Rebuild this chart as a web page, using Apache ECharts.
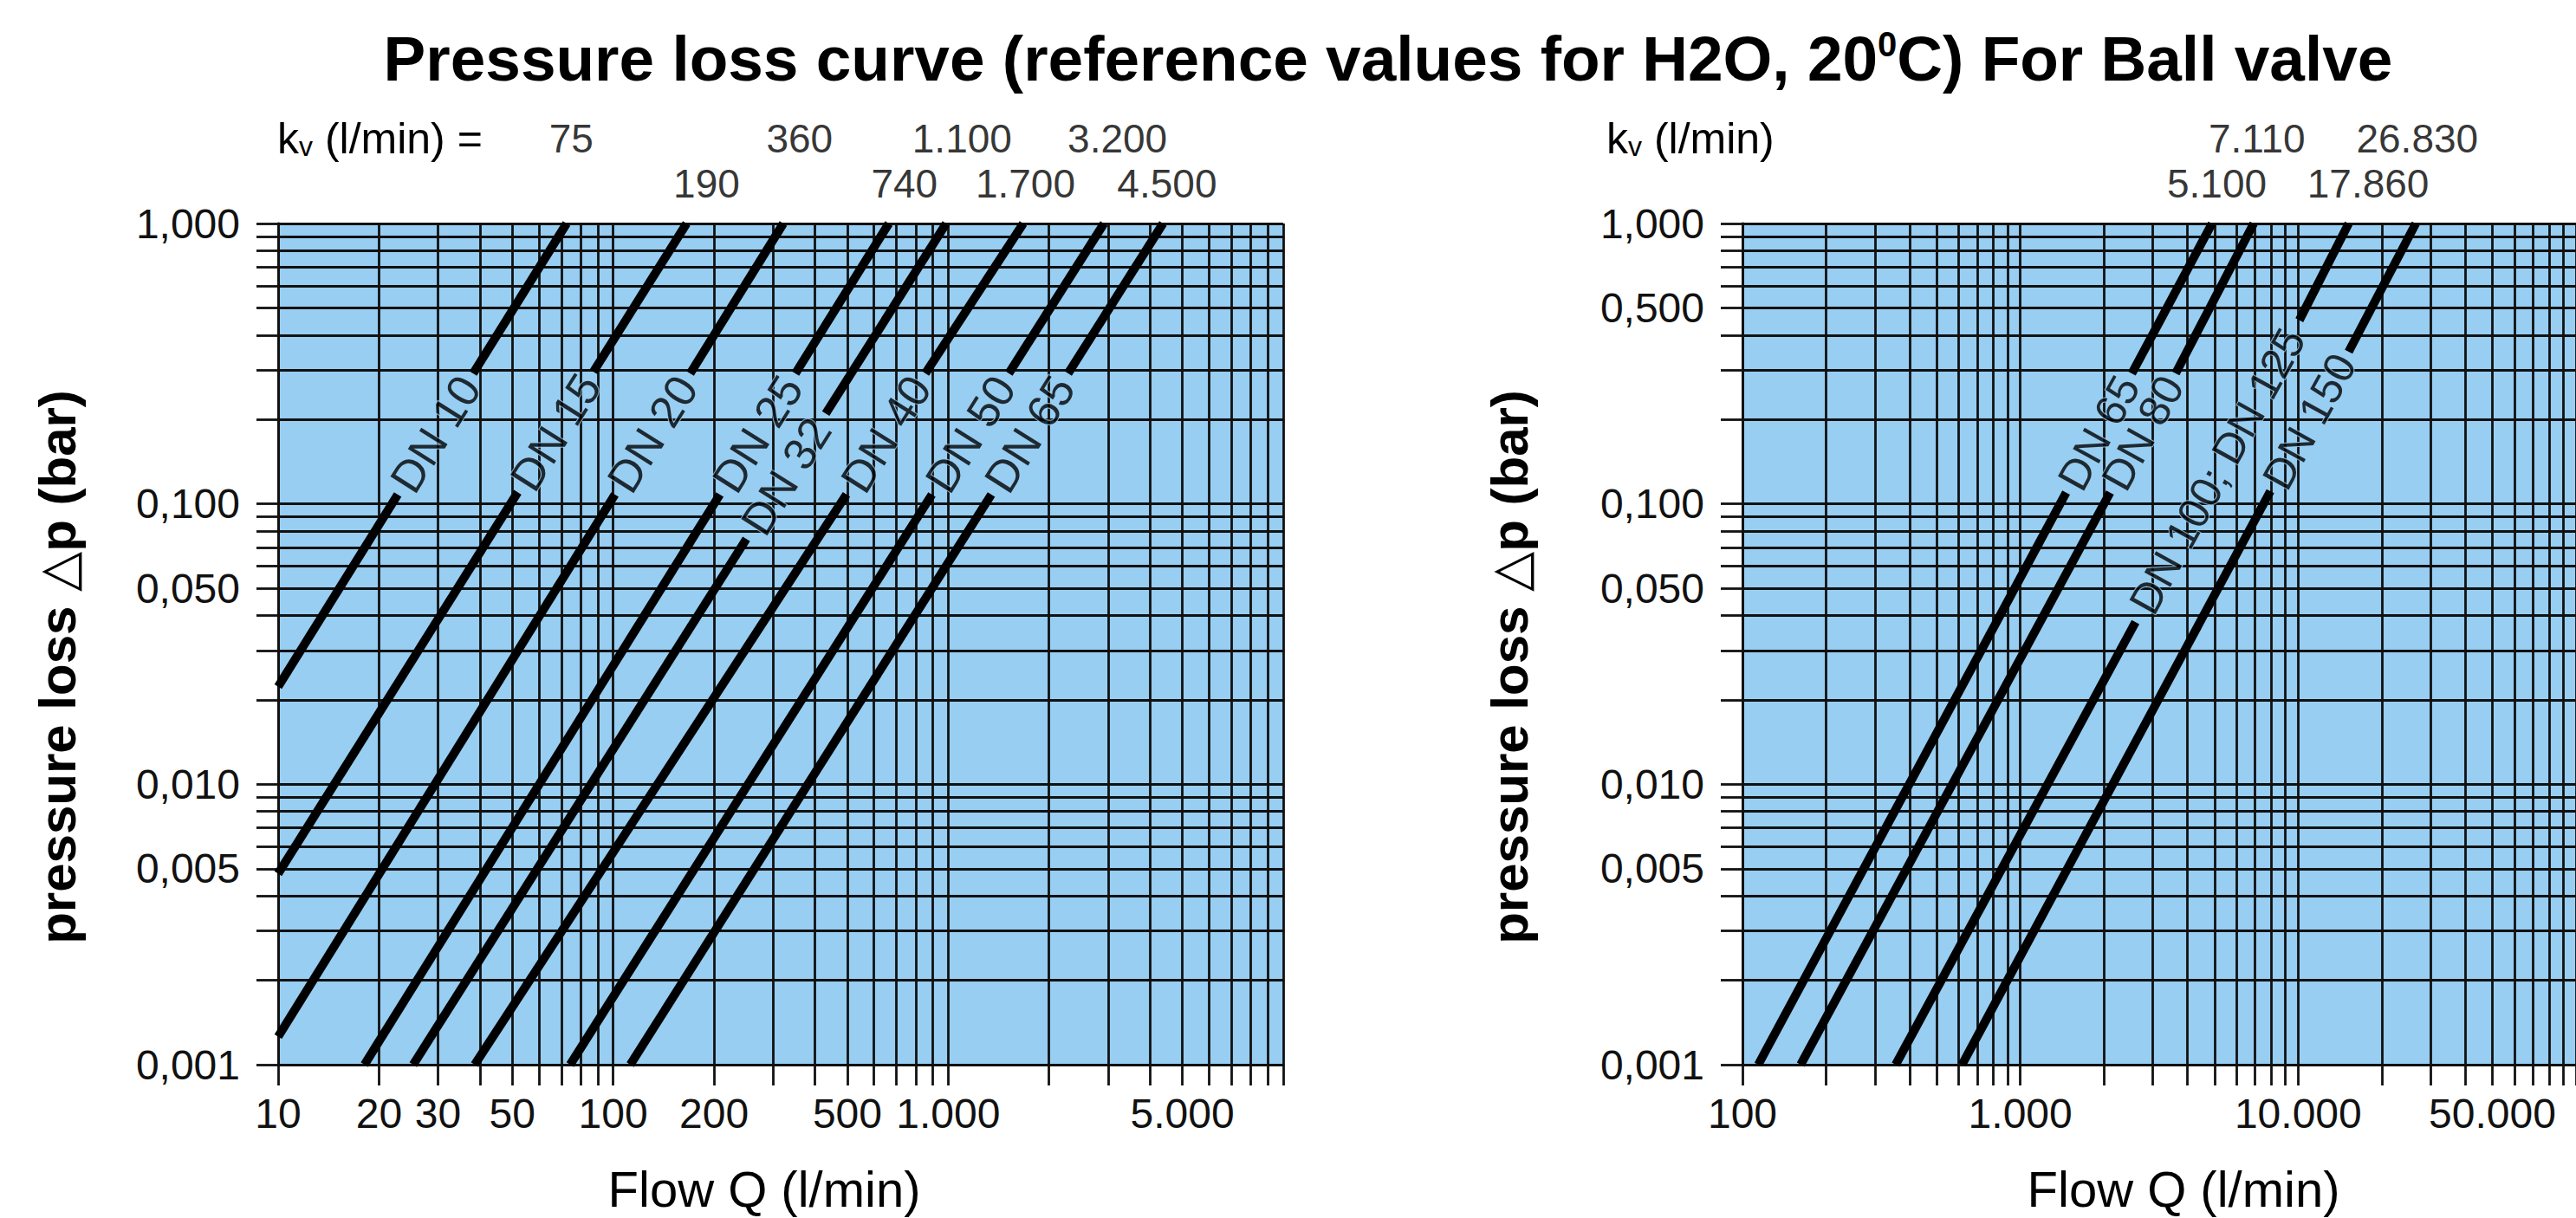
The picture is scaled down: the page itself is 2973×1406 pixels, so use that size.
<!DOCTYPE html>
<html>
<head>
<meta charset="utf-8">
<script src="https://cdn.jsdelivr.net/npm/echarts@6/dist/echarts.min.js"></script>
<style>
html,body{margin:0;padding:0;background:#ffffff;}
#chart{width:2973px;height:1406px;}
</style>
</head>
<body>
<div id="chart"></div>
<script>
// ---------- data ----------
// left diagram (DN 10 ... DN 65)
const leftSizes    = ['DN 10','DN 15','DN 20','DN 25','DN 32','DN 40','DN 50','DN 65'];
const leftKv       = [75, 190, 360, 740, 1100, 1700, 3200, 4500];
const leftKvRow    = [0, 1, 0, 1, 0, 1, 0, 1];
// each curve: [Q (l/min), dp (bar)] at start, label gap start, label gap end, end
const leftCurveStart = [[10,0.0223],[10,0.0048],[10,0.00126],[18.1,0.001],[25.3,0.001],[38.6,0.001],[74.4,0.001],[112.5,0.001]];
const leftGapLow     = [[22.75,0.108],[51.9,0.110],[101.2,0.108],[208.2,0.108],[249.8,0.075],[497,0.108],[894,0.108],[1345,0.108]];
const leftGapHigh    = [[38.2,0.292],[87.3,0.296],[169.8,0.292],[349.9,0.292],[431,0.21],[855,0.292],[1517,0.292],[2280,0.292]];
const leftCurveEnd   = [[72.6,1],[165.6,1],[322,1],[665,1],[986,1],[1675,1],[2917,1],[4376,1]];
const leftLabelPos   = [[29.5,0.1776],[67.3,0.1804],[131.1,0.1776],[269.9,0.1776],[328.1,0.1255],[651.9,0.1776],[1164.6,0.1776],[1751,0.1776]];

// right diagram (DN 65 ... DN 150)
const rightSizes   = ['DN 65','DN 80','DN 100; DN 125','DN 150'];
const rightKv      = [5100, 7110, 17860, 26830];
const rightKvRow   = [1, 0, 1, 0];
const rightCurveStart = [[114,0.001],[162,0.001],[356,0.001],[617,0.001]];
const rightGapLow     = [[1462,0.1097],[2104,0.1097],[2598,0.0379],[7943,0.111]];
const rightGapHigh    = [[2520,0.292],[3623,0.292],[10100,0.452],[15195,0.349]];
const rightCurveEnd   = [[4898,1],[6918,1],[15200,1],[26500,1]];
const rightLabelPos   = [[1919,0.179],[2761,0.179],[5122,0.1309],[10986,0.1968]];

// grid lines / ticks
const leftXGrid  = [10,20,30,40,50,60,70,80,90,100,200,300,400,500,600,700,800,900,1000,2000,3000,4000,5000,6000,7000,8000,9000,10000];
const rightXGrid = [100,200,300,400,500,600,700,800,900,1000,2000,3000,4000,5000,6000,7000,8000,9000,10000,20000,30000,40000,50000,60000,70000,80000,90000,100000];
const yGrid      = [0.001,0.002,0.003,0.004,0.005,0.006,0.007,0.008,0.009,0.01,0.02,0.03,0.04,0.05,0.06,0.07,0.08,0.09,0.1,0.2,0.3,0.4,0.5,0.6,0.7,0.8,0.9,1];
// tick labels
const leftXLabels  = [10,20,30,50,100,200,500,1000,5000];
const rightXLabels = [100,1000,10000,50000];
const leftYLabels  = [0.001,0.005,0.01,0.05,0.1,1];
const rightYLabels = [0.001,0.005,0.01,0.05,0.1,0.5,1];

// ---------- styling ----------
const BLUE = '#98CEF2';
const INK = '#111111';
const FONT = '"Liberation Sans", Arial, Helvetica, sans-serif';
const GW = 2.8;

function fmtX(v){ return String(Math.round(v)).replace(/\B(?=(\d{3})+(?!\d))/g, '.'); }
function fmtY(v){ return Number(v).toFixed(3).replace('.', ','); }

function xAxisDef(grid, min, max, gridVals, labelVals){
  return {
    type:'log', logBase:10, gridIndex:grid, min:min, max:max,
    axisLine:{show:true, onZero:false, lineStyle:{color:INK, width:GW}},
    axisTick:{show:true, inside:false, length:24, customValues:gridVals, lineStyle:{color:INK, width:GW}},
    axisLabel:{show:true, customValues:labelVals, formatter:fmtX, margin:32, fontSize:48, color:INK, fontFamily:FONT},
    splitLine:{show:true, lineStyle:{color:INK, width:GW}},
    minorTick:{show:false}, minorSplitLine:{show:false}
  };
}
function yAxisDef(grid, labelVals){
  return {
    type:'log', logBase:10, gridIndex:grid, min:0.001, max:1,
    axisLine:{show:true, onZero:false, lineStyle:{color:INK, width:GW}},
    axisTick:{show:true, inside:false, length:25, customValues:yGrid, lineStyle:{color:INK, width:GW}},
    axisLabel:{show:true, customValues:labelVals, formatter:fmtY, margin:44, fontSize:48, color:INK, fontFamily:FONT},
    splitLine:{show:true, lineStyle:{color:INK, width:GW}},
    minorTick:{show:false}, minorSplitLine:{show:false}
  };
}

const series = [];
function addCurves(idx, starts, lows, highs, ends){
  for (let i = 0; i < starts.length; i++){
    [[starts[i], lows[i]], [highs[i], ends[i]]].forEach(function(seg){
      series.push({
        type:'line', xAxisIndex:idx, yAxisIndex:idx, data:seg,
        symbol:'none', silent:true, animation:false, z:4,
        lineStyle:{color:'#000', width:10, cap:'butt'}
      });
    });
  }
}
function addCurveLabels(idx, names, pos, angle, size){
  series.push({
    type:'scatter', xAxisIndex:idx, yAxisIndex:idx, symbolSize:1, silent:true, animation:false, z:6,
    itemStyle:{color:'rgba(0,0,0,0)'},
    data: names.map(function(n, i){ return {name:n, value:pos[i]}; }),
    label:{show:true, position:'inside', rotate:angle, formatter:'{b}', fontSize:size, color:'#000',
           fontFamily:FONT, textBorderColor:BLUE, textBorderWidth:2}
  });
}
function addKvLabels(idx, kv, rows){
  series.push({
    type:'scatter', xAxisIndex:idx, yAxisIndex:idx, symbolSize:1, silent:true, animation:false, clip:false, z:6,
    itemStyle:{color:'rgba(0,0,0,0)'},
    data: kv.map(function(k, i){ return {name:fmtX(k), value:[k, 1], label:{offset:[0, rows[i] ? -46 : -98]}}; }),
    label:{show:true, position:'inside', formatter:'{b}', fontSize:46, color:'#000', fontFamily:FONT}
  });
}
addCurves(0, leftCurveStart, leftGapLow, leftGapHigh, leftCurveEnd);
addCurves(1, rightCurveStart, rightGapLow, rightGapHigh, rightCurveEnd);
addCurveLabels(0, leftSizes, leftLabelPos, 57.8, 52);
addCurveLabels(1, rightSizes, rightLabelPos, 61.2, 50);
addKvLabels(0, leftKv, leftKvRow);
addKvLabels(1, rightKv, rightKvRow);

const chart = echarts.init(document.getElementById('chart'), null, {renderer:'svg', width:2973, height:1406});
chart.setOption({
  animation:false,
  backgroundColor:'#ffffff',
  grid:[
    {left:321, top:258, width:1160, height:971, show:true, backgroundColor:BLUE, borderWidth:0, containLabel:false},
    {left:2011, top:258, width:1310, height:971, show:true, backgroundColor:BLUE, borderWidth:0, containLabel:false}
  ],
  xAxis:[ xAxisDef(0, 10, 10000, leftXGrid, leftXLabels), xAxisDef(1, 100, 100000, rightXGrid, rightXLabels) ],
  yAxis:[ yAxisDef(0, leftYLabels), yAxisDef(1, rightYLabels) ],
  series: series,
  graphic:[
    {type:'text', x:1602, y:67, silent:true, style:{
      text:'Pressure loss curve (reference values for H2O, 20{sup|0}C) For Ball valve',
      fontSize:73, fontWeight:'bold', fontFamily:FONT, fill:'#000',
      align:'center', verticalAlign:'middle', textAlign:'center', textVerticalAlign:'middle',
      rich:{sup:{fontSize:40, fontWeight:'bold', fontFamily:FONT, verticalAlign:'top', lineHeight:60}}
    }},
    {type:'text', x:320, y:160, silent:true, style:{
      text:'k{sub|v} (l/min) =', fontSize:50, fontFamily:FONT, fill:'#000',
      align:'left', verticalAlign:'middle', textAlign:'left', textVerticalAlign:'middle',
      rich:{sub:{fontSize:32, fontFamily:FONT, verticalAlign:'bottom', lineHeight:42}}
    }},
    {type:'text', x:1854, y:160, silent:true, style:{
      text:'k{sub|v} (l/min)', fontSize:50, fontFamily:FONT, fill:'#000',
      align:'left', verticalAlign:'middle', textAlign:'left', textVerticalAlign:'middle',
      rich:{sub:{fontSize:32, fontFamily:FONT, verticalAlign:'bottom', lineHeight:42}}
    }},
    {type:'text', x:66, y:770, rotation:Math.PI/2, silent:true, style:{
      text:'pressure loss \u25B3p (bar)', fontSize:60, fontWeight:'bold', fontFamily:'"Liberation Sans", "DejaVu Sans", sans-serif', fill:'#000',
      align:'center', verticalAlign:'middle', textAlign:'center', textVerticalAlign:'middle'
    }},
    {type:'text', x:1742, y:770, rotation:Math.PI/2, silent:true, style:{
      text:'pressure loss \u25B3p (bar)', fontSize:60, fontWeight:'bold', fontFamily:'"Liberation Sans", "DejaVu Sans", sans-serif', fill:'#000',
      align:'center', verticalAlign:'middle', textAlign:'center', textVerticalAlign:'middle'
    }},
    {type:'text', x:882, y:1372, silent:true, style:{
      text:'Flow Q (l/min)', fontSize:58, fontFamily:FONT, fill:'#000',
      align:'center', verticalAlign:'middle', textAlign:'center', textVerticalAlign:'middle'
    }},
    {type:'text', x:2520, y:1372, silent:true, style:{
      text:'Flow Q (l/min)', fontSize:58, fontFamily:FONT, fill:'#000',
      align:'center', verticalAlign:'middle', textAlign:'center', textVerticalAlign:'middle'
    }}
  ]
});
</script>
</body>
</html>
